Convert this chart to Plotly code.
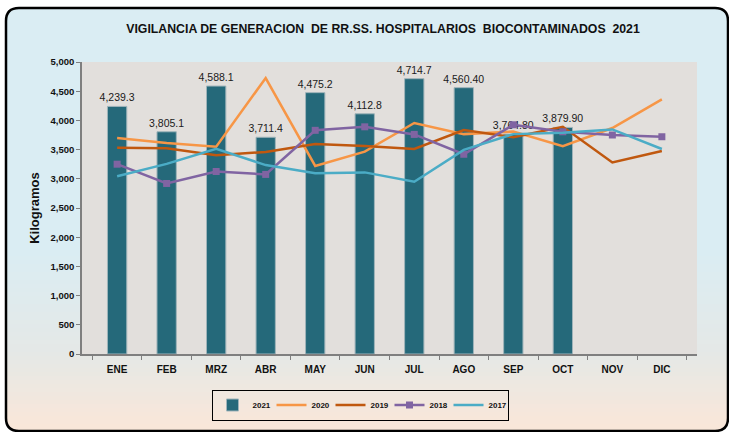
import plotly.graph_objects as go

months = ["ENE", "FEB", "MRZ", "ABR", "MAY", "JUN", "JUL", "AGO", "SEP", "OCT", "NOV", "DIC"]
v2021 = [4239.3, 3805.1, 4588.1, 3711.4, 4475.2, 4112.8, 4714.7, 4560.40, 3764.80, 3879.90, None, None]
lbl2021 = ["4,239.3", "3,805.1", "4,588.1", "3,711.4", "4,475.2", "4,112.8", "4,714.7", "4,560.40", "3,764.80", "3,879.90", "", ""]
v2020 = [3700, 3615, 3550, 4725, 3220, 3465, 3955, 3765, 3810, 3560, 3870, 4360]
v2019 = [3530, 3525, 3405, 3460, 3595, 3560, 3510, 3835, 3710, 3890, 3280, 3475]
v2018 = [3250, 2920, 3125, 3075, 3830, 3890, 3760, 3420, 3925, 3805, 3750, 3720]
v2017 = [3045, 3255, 3515, 3235, 3095, 3110, 2950, 3495, 3765, 3790, 3845, 3510]

W, H = 729, 432
L, R, T, B = 82, 697, 62, 354

def px(x):
    return (x - L) / (R - L)

def py(y):
    return (B - y) / (B - T)

fig = go.Figure()
fig.add_trace(go.Bar(x=months, y=v2021, name="<b>2021</b>", width=0.39,
                     marker=dict(color="#25697a", line=dict(color="#9fb4ba", width=1)),
                     text=lbl2021, textposition="outside", cliponaxis=False,
                     constraintext="none",
                     textfont=dict(size=10.5, color="#1a1a1a", family="Liberation Sans, Arial")))
fig.add_trace(go.Scatter(x=months, y=v2020, name="<b>2020</b>", mode="lines",
                         line=dict(color="#f79646", width=2.5)))
fig.add_trace(go.Scatter(x=months, y=v2019, name="<b>2019</b>", mode="lines",
                         line=dict(color="#c0580f", width=2.5)))
fig.add_trace(go.Scatter(x=months, y=v2018, name="<b>2018</b>", mode="lines+markers",
                         line=dict(color="#8064a2", width=2.5),
                         marker=dict(symbol="square", size=7, color="#8064a2")))
fig.add_trace(go.Scatter(x=months, y=v2017, name="<b>2017</b>", mode="lines",
                         line=dict(color="#4bacc6", width=2.5)))

def lerp(c1, c2, t):
    return tuple(round(a + (b - a) * t) for a, b in zip(c1, c2))

c_blue = (218, 237, 243)
c_gray = (229, 232, 230)
c_peach = (249, 231, 217)
shapes = []
x0b, x1b, y0b, y1b = 6, 728, 8, 431
step = 4
y = y0b
while y < y1b:
    yc = y + step / 2
    if yc < 250:
        c = c_blue
    elif yc < 355:
        c = lerp(c_blue, c_gray, (yc - 250) / 105)
    else:
        c = lerp(c_gray, c_peach, min(1, (yc - 355) / 70))
    shapes.append(dict(type="rect", xref="paper", yref="paper", layer="below",
                       x0=px(x0b), x1=px(x1b), y0=py(min(y + step + 0.5, y1b)), y1=py(y),
                       fillcolor="rgb(%d,%d,%d)" % c, line=dict(width=0)))
    y += step

shapes.append(dict(type="rect", xref="paper", yref="paper", layer="below",
                   x0=0, x1=1, y0=0, y1=1, fillcolor="#e2dfdc", line=dict(width=0)))

r = 13
corners = [
    ((x0b, y0b), (x0b, y0b + r), (x0b + r, y0b)),
    ((x1b, y0b), (x1b - r, y0b), (x1b, y0b + r)),
    ((x0b, y1b), (x0b, y1b - r), (x0b + r, y1b)),
    ((x1b, y1b), (x1b - r, y1b), (x1b, y1b - r)),
]
for (cx, cy), (ax, ay), (bx, by) in corners:
    path = "M %f,%f L %f,%f Q %f,%f %f,%f Z" % (px(cx), py(cy), px(ax), py(ay), px(cx), py(cy), px(bx), py(by))
    shapes.append(dict(type="path", xref="paper", yref="paper", layer="below",
                       path=path, fillcolor="white", line=dict(width=0)))

bp = ("M %f,%f L %f,%f Q %f,%f %f,%f L %f,%f Q %f,%f %f,%f L %f,%f Q %f,%f %f,%f L %f,%f Q %f,%f %f,%f Z" % (
    px(x0b + r), py(y0b), px(x1b - r), py(y0b), px(x1b), py(y0b), px(x1b), py(y0b + r),
    px(x1b), py(y1b - r), px(x1b), py(y1b), px(x1b - r), py(y1b),
    px(x0b + r), py(y1b), px(x0b), py(y1b), px(x0b), py(y1b - r),
    px(x0b), py(y0b + r), px(x0b), py(y0b), px(x0b + r), py(y0b)))
shapes.append(dict(type="path", xref="paper", yref="paper", layer="above",
                   path=bp, line=dict(color="black", width=2.5)))

fig.update_layout(
    width=W, height=H,
    margin=dict(l=L, r=W - R, t=T, b=H - B),
    paper_bgcolor="white",
    plot_bgcolor="#e2dfdc",
    shapes=shapes,
    font=dict(family="Liberation Sans, Arial", color="#111111"),
    title=dict(text="<b>VIGILANCIA DE GENERACION \u00a0DE RR.SS. HOSPITALARIOS \u00a0BIOCONTAMINADOS \u00a02021</b>",
               x=383 / W, xanchor="center", y=1 - 29 / H, yanchor="middle",
               font=dict(size=12.3, color="#111111")),
    showlegend=True,
    legend=dict(orientation="h", x=px(360), xanchor="center", y=py(405), yanchor="middle",
                bgcolor="rgba(0,0,0,0)", bordercolor="black", borderwidth=1,
                font=dict(size=8, color="#111111", family="Liberation Sans, Arial"),
                itemwidth=30, tracegroupgap=0, entrywidth=14),
    bargap=0.6,
    hovermode=False,
)
fig.update_xaxes(showline=True, linecolor="#7f7f7f", linewidth=1.5, ticks="outside",
                 tickson="boundaries", ticklen=4, tickcolor="#7f7f7f",
                 tickfont=dict(size=10, color="#111111"), showgrid=False,
                 ticklabelstandoff=5,
                 tickprefix="<b>", ticksuffix="</b>")
fig.update_yaxes(range=[0, 5000], dtick=500, tickformat=",", showline=True,
                 linecolor="#7f7f7f", linewidth=1.5, ticks="outside", ticklen=4,
                 tickcolor="#7f7f7f", showgrid=False, zeroline=False,
                 tickfont=dict(size=9.5, color="#111111"),
                 tickprefix="<b>", ticksuffix="</b>",
                 title=dict(text="<b>Kilogramos</b>", font=dict(size=13, color="#111111"), standoff=8))

fig.write_html("out.html", config={"displayModeBar": False},
               post_script="document.body.style.margin='0';document.body.style.overflow='hidden';")
